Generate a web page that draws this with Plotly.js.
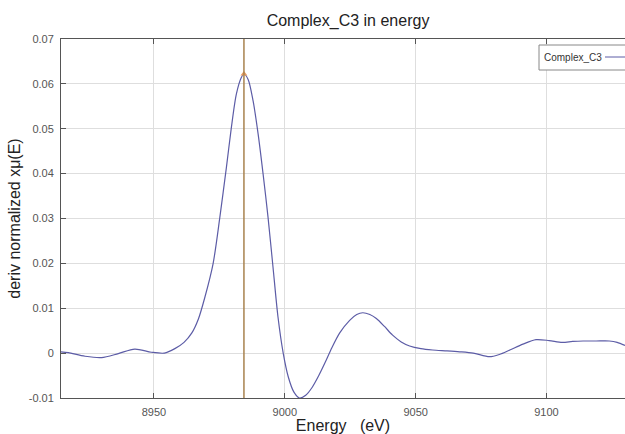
<!DOCTYPE html>
<html>
<head>
<meta charset="utf-8">
<script src="https://cdn.plot.ly/plotly-3.0.1.min.js"></script>
<style>html,body{margin:0;padding:0;background:#fff;}#chart{width:625px;height:434px;}</style>
</head>
<body>
<div id="chart"></div>
<script>
// Energy (eV)
const energy = [8914.5, 8917.3, 8923.7, 8930, 8936.4, 8942.7, 8949, 8954, 8958, 8961.5,
  8964.5, 8967, 8969.5, 8972.6, 8975.2, 8977.7, 8979.6, 8981.5, 8983.4, 8984.4,
  8986, 8987.9, 8989.8, 8991.7, 8993.6, 8995.5, 8997.4, 8999.4, 9001.3, 9003.5,
  9005.6, 9008, 9010.5, 9013, 9015.5, 9018, 9021, 9024.8, 9027.5, 9029.8,
  9032.5, 9035, 9038, 9041.2, 9044.5, 9047.7, 9052, 9056.5, 9062, 9066.8,
  9072, 9078.2, 9082, 9086, 9091, 9096, 9101, 9106, 9110, 9114,
  9119, 9124, 9127, 9130];
// deriv normalized x mu(E)
const derivMu = [0.0003, 0.0001, -0.0007, -0.0010, -0.0001, 0.0009, 0.0002, 0.0000, 0.0010, 0.0024,
  0.0045, 0.0076, 0.0125, 0.0199, 0.0303, 0.0414, 0.0503, 0.0577, 0.0614, 0.0622,
  0.0610, 0.0562, 0.0489, 0.0400, 0.0303, 0.0192, 0.0081, 0.0000, -0.0052, -0.0087,
  -0.0100, -0.0094, -0.0076, -0.0050, -0.0020, 0.0012, 0.0045, 0.0073, 0.0086, 0.0090,
  0.0086, 0.0077, 0.0060, 0.0040, 0.0025, 0.0016, 0.0010, 0.0007, 0.0005, 0.0003,
  0.0000, -0.0008, -0.0003, 0.0007, 0.0020, 0.0030, 0.0028, 0.0024, 0.0026, 0.0027,
  0.0027, 0.0027, 0.0024, 0.0017];
const edgeEnergy = [8984.4];
const edgeValue = [0.0622];
const seriesName = "Complex_C3";
const xTicks = [8950, 9000, 9050, 9100];
const yTicks = [-0.01, 0, 0.01, 0.02, 0.03, 0.04, 0.05, 0.06, 0.07];

const xRange = [8914.5, 9130];
const yRange = [-0.01, 0.07];

const traces = [
  {x: energy, y: derivMu, type: 'scatter', mode: 'lines', name: seriesName,
   line: {color: '#5c5ca6', width: 1.2, shape: 'spline', smoothing: 0.8}, hoverinfo: 'x+y'},
  {x: edgeEnergy, y: edgeValue, type: 'scatter', mode: 'markers', showlegend: false,
   marker: {symbol: 'triangle-up', size: 6, color: '#e89a5c'}}
];

const layout = {
  width: 625, height: 434,
  margin: {l: 61, r: 0, t: 39, b: 36},
  paper_bgcolor: '#fff', plot_bgcolor: '#fff',
  font: {family: 'Liberation Sans, Arial, sans-serif', color: '#555'},
  showlegend: false,
  title: {text: 'Complex_C3 in energy', font: {size: 16, color: '#222'},
          x: 348/625, xref: 'container', xanchor: 'center', y: 1 - 20/434, yref: 'container', yanchor: 'middle'},
  xaxis: {range: xRange, tickvals: xTicks, ticktext: xTicks.map(String),
    showgrid: true, gridcolor: '#dedede', gridwidth: 1, zeroline: false,
    showline: true, linecolor: '#555', linewidth: 1, mirror: 'ticks',
    ticks: 'inside', ticklen: 5, tickcolor: '#555', tickfont: {size: 11, color: '#555'},
    ticklabelstandoff: 4,
    title: {text: 'Energy\u00a0\u00a0\u00a0(eV)', font: {size: 16, color: '#222'}, standoff: 2}},
  yaxis: {range: yRange, tickvals: yTicks, ticktext: yTicks.map(v => String(v)),
    showgrid: true, gridcolor: '#dedede', gridwidth: 1, zeroline: false,
    showline: true, linecolor: '#555', linewidth: 1,
    ticks: 'inside', ticklen: 5, tickcolor: '#555', tickfont: {size: 11, color: '#555'},
    ticklabelstandoff: 4,
    title: {text: 'deriv normalized xμ(E)', font: {size: 16, color: '#222'}, standoff: 4}},
  shapes: [
    {type: 'line', xref: 'x', yref: 'paper', x0: edgeEnergy[0], x1: edgeEnergy[0], y0: 0, y1: 1,
     line: {color: '#a8824e', width: 1.5}},
    {type: 'rect', xref: 'paper', yref: 'paper', x0: (539-61)/564, x1: 1.02, y0: (398-70)/359, y1: (398-45)/359,
     line: {color: '#888', width: 1}, fillcolor: '#fff'},
    {type: 'line', xref: 'paper', yref: 'paper', x0: (605-61)/564, x1: 1.02, y0: (398-57)/359, y1: (398-57)/359,
     line: {color: '#5c5ca6', width: 1}}
  ],
  annotations: [
    {xref: 'paper', yref: 'paper', x: (542-61)/564, y: (398-57)/359, xanchor: 'left', yanchor: 'middle',
     text: seriesName, showarrow: false, font: {size: 10, color: '#333'}}
  ]
};

Plotly.newPlot('chart', traces, layout, {staticPlot: true, displayModeBar: false});
</script>
</body>
</html>
